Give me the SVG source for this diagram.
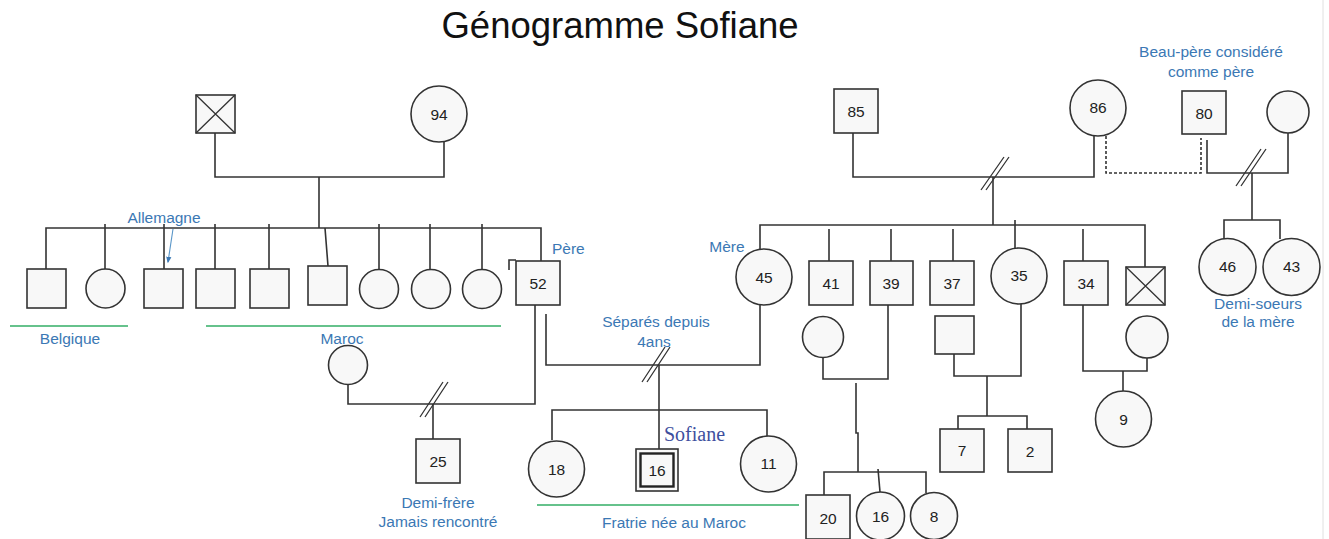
<svg xmlns="http://www.w3.org/2000/svg" width="1329" height="539" viewBox="0 0 1329 539">
<defs>
<style>
.n{fill:#f8f8f8;stroke:#333;stroke-width:1.6}
.c{fill:none;stroke:#333;stroke-width:1.6}
.x{fill:none;stroke:#333;stroke-width:1.3}
.num{font-family:"Liberation Sans",Arial,sans-serif;font-size:15.5px;fill:#222;text-anchor:middle;dominant-baseline:central}
.lbl{font-family:"Liberation Sans",Arial,sans-serif;font-size:15.5px;fill:#3b78b4;text-anchor:middle}
.g{stroke:#66c28c;stroke-width:2;fill:none}
</style>
<marker id="arr" viewBox="0 0 10 10" refX="8" refY="5" markerWidth="6" markerHeight="6" orient="auto">
<path d="M0,1 L10,5 L0,9 Z" fill="#3b78b4"/>
</marker>
</defs>
<rect width="1329" height="539" fill="#fff"/>
<line x1="1323" y1="0" x2="1323" y2="539" stroke="#e0e0e0" stroke-width="1"/>
<text x="620" y="38" font-family="Liberation Sans, Arial, sans-serif" font-size="36.5" fill="#111" text-anchor="middle">Génogramme Sofiane</text>

<g id="connectors">
<path class="c" d="M215,133 V177 H444 V142"/>
<path class="c" d="M319,177 V228"/>
<path class="c" d="M46,269 V228 H541 V261"/>
<path class="c" d="M105,224 V269 M164,224 V269 M215,224 V269 M269,224 V269 M325,228 L328,266 M379,224 V270 M430,224 V270 M482,224 V270"/>
<path class="c" d="M509,270 V260 H516"/>
<path class="c" d="M348,384.5 V404 H535 V305"/>
<path class="x" d="M420,417 L443,382 M425,417 L448,382"/>
<path class="c" d="M433,404 V439"/>
<path class="c" d="M546,314 V365 H760 V305"/>
<path class="x" d="M642,382 L665,347 M647,382 L670,347"/>
<path class="c" d="M659,365 V453"/>
<path class="c" d="M552,440 V410 H767 V436"/>
<path d="M173,229 L168,262" stroke="#5a96c8" stroke-width="1.1" fill="none" marker-end="url(#arr)"/>
<path class="c" d="M853,133 V177 H1094 V136"/>
<path class="x" d="M981,190 L1004,157 M986,190 L1009,157"/>
<path class="c" d="M993,177 V225"/>
<path class="c" d="M760,249 V225 H1145 V267"/>
<path class="c" d="M829,229 V261 M891,229 V261 M953,229 V261 M1015,220 V248 M1083,229 V261"/>
<path class="c" d="M1106,136 V173 H1201 V138" stroke-dasharray="3,2"/>
<path class="c" d="M1207,140 V173 H1288 V133"/>
<path class="x" d="M1236,186 L1261,149 M1241,186 L1266,149"/>
<path class="c" d="M1252,173 V220"/>
<path class="c" d="M1224,239 V220 H1280 V239"/>
<path class="c" d="M823,357.5 V379 H888 V305"/>
<path class="c" d="M856,383 V433 H858 V472"/>
<path class="c" d="M824,495 V472 H926 V493"/>
<path class="c" d="M878,469 L880,492"/>
<path class="c" d="M954,354 V376 H1021 V304"/>
<path class="c" d="M987,376 V416"/>
<path class="c" d="M958,429 V416 H1027 V429"/>
<path class="c" d="M1083,305 V371 H1147 V358"/>
<path class="c" d="M1123,371 V391"/>
<path class="g" d="M10,326 H128 M206,326 H501 M537,505 H799"/>
</g>

<g id="gf"><rect class="n" x="196" y="95" width="39" height="38"/><path class="x" d="M196,95 L235,133 M235,95 L196,133"/></g>
<g id="gm94"><circle class="n" cx="439" cy="114" r="28"/><text class="num" x="439" y="114">94</text></g>
<g id="u1"><rect class="n" x="27" y="269" width="39" height="39"/></g>
<g id="u2"><circle class="n" cx="105.5" cy="288.5" r="19.5"/></g>
<g id="u3"><rect class="n" x="144" y="269" width="39" height="39"/></g>
<g id="u4"><rect class="n" x="196" y="269" width="39" height="39"/></g>
<g id="u5"><rect class="n" x="250" y="269" width="39" height="39"/></g>
<g id="u6"><rect class="n" x="308" y="266" width="39" height="39"/></g>
<g id="u7"><circle class="n" cx="379" cy="289" r="19.5"/></g>
<g id="u8"><circle class="n" cx="431" cy="289" r="19.5"/></g>
<g id="u9"><circle class="n" cx="482" cy="289" r="19.5"/></g>
<g id="father"><rect class="n" x="516" y="261" width="44" height="44"/><text class="num" x="538" y="283">52</text></g>
<g id="fwife"><circle class="n" cx="348" cy="365" r="19.5"/></g>
<g id="hb25"><rect class="n" x="416" y="439" width="44" height="44"/><text class="num" x="438" y="461">25</text></g>
<g id="s18"><circle class="n" cx="556.5" cy="469" r="28"/><text class="num" x="556.5" y="469">18</text></g>
<g id="sofiane"><rect class="n" x="636" y="449" width="42" height="42" stroke-width="1.2"/><rect x="640.5" y="453.5" width="33" height="33" fill="#f8f8f8" stroke="#222" stroke-width="2.4"/><text class="num" x="657" y="470">16</text></g>
<g id="s11"><circle class="n" cx="768.5" cy="464" r="28"/><text class="num" x="768.5" y="463">11</text></g>
<g id="mother"><circle class="n" cx="764" cy="277" r="28"/><text class="num" x="764" y="277">45</text></g>
<g id="g85"><rect class="n" x="834" y="89" width="44" height="44"/><text class="num" x="856" y="111">85</text></g>
<g id="g86"><circle class="n" cx="1098" cy="108" r="28"/><text class="num" x="1098" y="107">86</text></g>
<g id="g80"><rect class="n" x="1182" y="91" width="44" height="43"/><text class="num" x="1204" y="113">80</text></g>
<g id="gw"><circle class="n" cx="1288" cy="112" r="21"/></g>
<g id="m41"><rect class="n" x="809" y="261" width="44" height="44"/><text class="num" x="831" y="283">41</text></g>
<g id="m39"><rect class="n" x="870" y="261" width="43" height="44"/><text class="num" x="891" y="283">39</text></g>
<g id="m37"><rect class="n" x="930" y="261" width="44" height="44"/><text class="num" x="952" y="283">37</text></g>
<g id="m35"><circle class="n" cx="1019" cy="276" r="28"/><text class="num" x="1019" y="275">35</text></g>
<g id="m34"><rect class="n" x="1064" y="261" width="44" height="44"/><text class="num" x="1086" y="283">34</text></g>
<g id="mdec"><rect class="n" x="1126" y="267" width="39" height="38"/><path class="x" d="M1126,267 L1165,305 M1165,267 L1126,305"/></g>
<g id="d46"><circle class="n" cx="1227.5" cy="267" r="28.5"/><text class="num" x="1227.5" y="266">46</text></g>
<g id="d43"><circle class="n" cx="1291.5" cy="267" r="28.5"/><text class="num" x="1291.5" y="266">43</text></g>
<g id="sp39"><circle class="n" cx="823" cy="337" r="20.5"/></g>
<g id="c20"><rect class="n" x="806" y="495" width="44" height="44"/><text class="num" x="828" y="518">20</text></g>
<g id="c16"><circle class="n" cx="880.5" cy="516" r="24"/><text class="num" x="880.5" y="516">16</text></g>
<g id="c8"><circle class="n" cx="934" cy="516" r="23.5"/><text class="num" x="934" y="516">8</text></g>
<g id="sp35"><rect class="n" x="935" y="316" width="39" height="38"/></g>
<g id="c7"><rect class="n" x="940" y="429" width="44" height="43"/><text class="num" x="962" y="450">7</text></g>
<g id="c2"><rect class="n" x="1008" y="429" width="44" height="43"/><text class="num" x="1030" y="451">2</text></g>
<g id="sp34"><circle class="n" cx="1147" cy="337" r="21"/></g>
<g id="c9"><circle class="n" cx="1123.5" cy="419" r="28"/><text class="num" x="1123.5" y="419">9</text></g>

<g id="labels">
<text class="lbl" x="164" y="222.5">Allemagne</text>
<text class="lbl" x="70" y="343.5">Belgique</text>
<text class="lbl" x="342" y="343.5">Maroc</text>
<text class="lbl" x="552" y="253.5" style="text-anchor:start">Père</text>
<text class="lbl" x="727" y="252">Mère</text>
<text class="lbl" x="656" y="327">Séparés depuis</text>
<text class="lbl" x="654" y="346.5">4ans</text>
<text class="lbl" x="438" y="507.5">Demi-frère</text>
<text class="lbl" x="438" y="527">Jamais rencontré</text>
<text x="664" y="441" font-family="Liberation Serif, Times New Roman, serif" font-size="20" fill="#3e4f9e">Sofiane</text>
<text class="lbl" x="674" y="528">Fratrie née au Maroc</text>
<text class="lbl" x="1211" y="57">Beau-père considéré</text>
<text class="lbl" x="1211" y="77">comme père</text>
<text class="lbl" x="1258" y="309">Demi-soeurs</text>
<text class="lbl" x="1258" y="327">de la mère</text>
</g>
</svg>
